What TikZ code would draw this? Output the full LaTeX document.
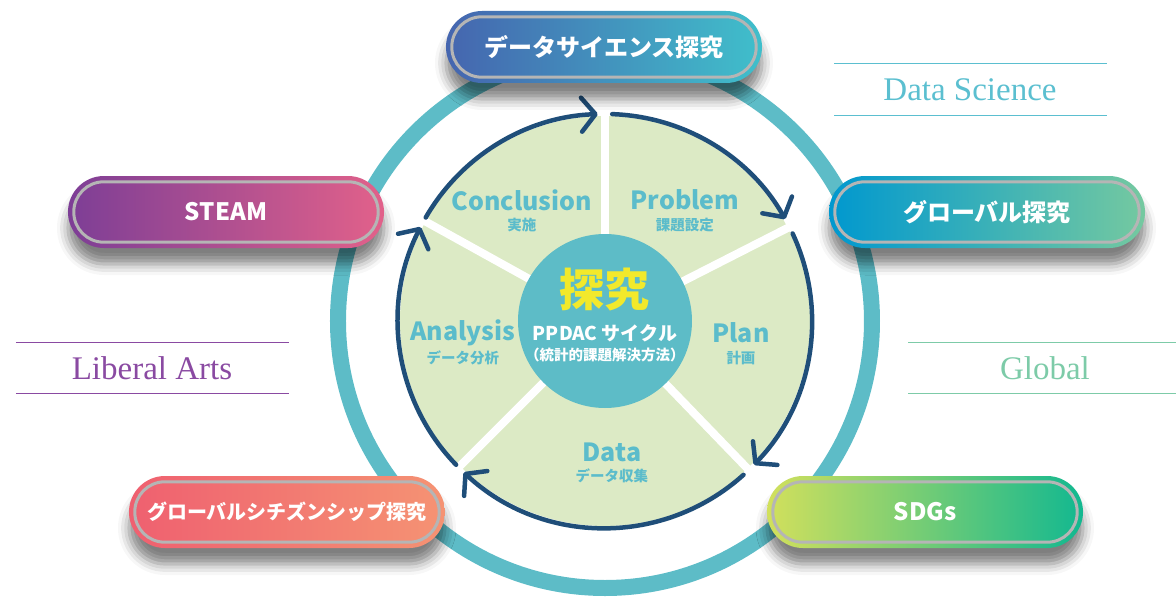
\documentclass[tikz,border=0pt]{standalone}
\usepackage{fontspec}
\setmainfont{Liberation Serif}
\newfontfamily\jpfont{Noto Sans CJK JP}
\usetikzlibrary{arrows.meta,calc,shadows.blur}

\definecolor{ringteal}{HTML}{5DBCC7}
\definecolor{piegreen}{HTML}{DCEAC5}
\definecolor{cyclenavy}{HTML}{1F4E79}
\definecolor{phaseteal}{HTML}{5BBCCB}
\definecolor{tankyuyellow}{HTML}{F2E92B}
\definecolor{pillgray}{HTML}{B5B5B5}
\definecolor{dsleft}{HTML}{4565AF}
\definecolor{dsright}{HTML}{40BFCB}
\definecolor{steamleft}{HTML}{7D3E96}
\definecolor{steamright}{HTML}{E2618A}
\definecolor{globleft}{HTML}{0098CF}
\definecolor{globright}{HTML}{75C9A0}
\definecolor{citleft}{HTML}{EF6070}
\definecolor{citright}{HTML}{F59373}
\definecolor{sdgleft}{HTML}{D2E05C}
\definecolor{sdgright}{HTML}{12B890}
\definecolor{tagteal}{HTML}{5BBFD0}
\definecolor{tagpurple}{HTML}{8A4AA2}
\definecolor{taggreen}{HTML}{7DCBA8}

\tikzset{
  pill/.style={rectangle, rounded corners=36pt, minimum width=316pt, minimum height=72pt,
    inner sep=0pt, text=white, font=\jpfont\bfseries\fontsize{24}{28}\selectfont,
    blur shadow={shadow xshift=0pt, shadow yshift=-16pt, shadow blur radius=11pt, shadow opacity=50}},
  phase/.style={text=phaseteal, font=\jpfont\bfseries\fontsize{25}{30}\selectfont},
  phasesub/.style={text=phaseteal, font=\jpfont\bfseries\fontsize{14.5}{17}\selectfont},
  cyclearrow/.style={draw=cyclenavy, line width=4.5pt, line cap=round,
    -{Straight Barb[length=14pt, width=34pt, line width=4.5pt, round]}},
  tagtext/.style={font=\fontsize{33}{37}\selectfont},
}
\newcommand\pillrim[1]{\draw[pillgray, line width=3pt, rounded corners=30pt]
  ($(#1.south west)+(6,6)$) rectangle ($(#1.north east)+(-6,-6)$);}

\begin{document}
\begin{tikzpicture}[x=1pt, y=1pt]
    \useasboundingbox (-605,-282) rectangle (571,321);
    \coordinate (c) at (0,0);

    % outer ring
    \draw[ringteal, line width=16pt] (c) circle (267);

    % PPDAC pie
    \fill[piegreen] (c) circle (205);
    \foreach \ang in {90,27,-46,-135,151}
        \draw[white, line width=8pt] (c) -- ++(\ang:207);
    \foreach \a/\b in {224/153, 150/92, 88/29.5, 25/-44, -48/-133}
        \draw[cyclearrow] ($(c)+(\a:207)$) arc[start angle=\a, end angle=\b, radius=207];
    \fill[ringteal] (c) circle (87);

    \node[phase] (conclusion) at (-83,121) {Conclusion};
    \node[phasesub] (conclusionjp) at (-83,96) {実施};
    \node[phase] (problem) at (80,121) {Problem};
    \node[phasesub] (problemjp) at (80,96) {課題設定};
    \node[phase] (plan) at (136,-12) {Plan};
    \node[phasesub] (planjp) at (136,-37) {計画};
    \node[phase] (data) at (7,-131) {Data};
    \node[phasesub] (datajp) at (7,-155) {データ収集};
    \node[phase] (analysis) at (-142,-12) {Analysis};
    \node[phasesub] (analysisjp) at (-142,-37) {データ分析};

    % centre
    \node[text=tankyuyellow, font=\jpfont\bfseries\fontsize{45}{50}\selectfont] (tankyu) at (0,31) {探究};
    \node[text=white, font=\jpfont\bfseries\fontsize{19}{22}\selectfont] (ppdac) at (0,-12) {PPDAC サイクル};
    \node[text=white, font=\jpfont\bfseries\fontsize{14.5}{17}\selectfont] (method) at (0,-34) {（統計的課題解決方法）};

    % pills
    \node[pill, left color=dsleft, right color=dsright] (ds) at (-1,274) {データサイエンス探究};
    \pillrim{ds}
    \node[pill, left color=steamleft, right color=steamright] (steam) at (-379,109) {STEAM};
    \pillrim{steam}
    \node[pill, left color=globleft, right color=globright] (glob) at (382,109) {グローバル探究};
    \pillrim{glob}
    \node[pill, left color=citleft, right color=citright, font=\jpfont\bfseries\fontsize{20}{24}\selectfont] (citizen) at (-318,-191) {グローバルシチズンシップ探究};
    \pillrim{citizen}
    \node[pill, left color=sdgleft, right color=sdgright] (sdgs) at (320,-191) {SDGs};
    \pillrim{sdgs}

    % side tags
    \draw[tagteal, line width=1pt] (229,257) -- (502,257) (229,206) -- (502,206);
    \node[tagtext, text=tagteal] (dstag) at (365,231) {Data Science};
    \draw[tagpurple, line width=1pt] (-589,-21) -- (-316,-21) (-589,-72) -- (-316,-72);
    \node[tagtext, text=tagpurple] (latag) at (-453,-47) {Liberal Arts};
    \draw[taggreen, line width=1pt] (303,-21) -- (571,-21) (303,-72) -- (571,-72);
    \node[tagtext, text=taggreen] (globtag) at (440,-47) {Global};
\end{tikzpicture}
\end{document}
